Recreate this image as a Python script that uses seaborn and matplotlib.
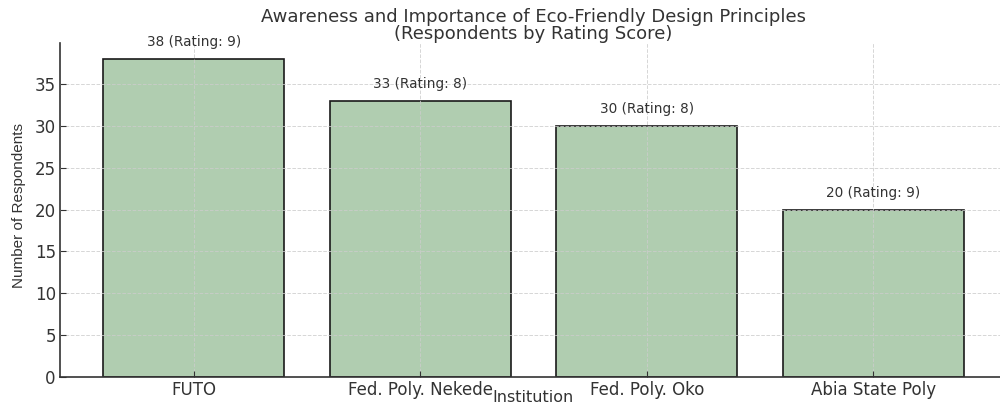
import matplotlib
matplotlib.use("Agg")
import matplotlib.pyplot as plt
from matplotlib import font_manager
import seaborn as sns
import pandas as pd

institutions = ["FUTO", "Fed. Poly. Nekede", "Fed. Poly. Oko", "Abia State Poly"]
respondents = [38, 33, 30, 20]
ratings = [9, 8, 8, 9]

sns.set_style("white")
plt.rcParams['font.family'] = ['DejaVu Sans']

installed = {f.name for f in font_manager.fontManager.ttflist}
if "Liberation Sans Narrow" in installed:
    ylab_font, ylab_size = "Liberation Sans Narrow", 13
else:
    ylab_font, ylab_size = "Liberation Sans", 11

df = pd.DataFrame({"Institution": institutions, "Respondents": respondents})

fig = plt.figure(figsize=(10, 4.09), dpi=100)
ax = fig.add_axes([0.06, 0.078, 0.947, 0.817])

sns.barplot(data=df, x="Institution", y="Respondents", ax=ax,
            color="#b0cdb0", saturation=1, edgecolor="#1a1a1a", linewidth=1.2, width=0.8)

ax.set_xlim(-0.59, 3.59)
ax.set_ylim(0, 39.9)
ax.grid(True, linestyle="--", color="#cccccc", linewidth=0.7, alpha=0.8)
ax.set_axisbelow(False)
for s in ["top", "right"]:
    ax.spines[s].set_visible(False)
for s in ["left", "bottom"]:
    ax.spines[s].set_color("#333333")
    ax.spines[s].set_linewidth(1.2)

ax.tick_params(axis="both", labelsize=12, colors="#333333", length=4, direction="in",
               left=True, bottom=True, pad=3)
for i, (v, r) in enumerate(zip(respondents, ratings)):
    ax.text(i, v + 1.2, f"{v} (Rating: {r})", ha="center", va="bottom", fontsize=9.8, color="#333333")

ax.set_xlabel("Institution", fontsize=11.5, color="#333333")
ax.xaxis.set_label_coords(0.5, -0.04)
ax.set_ylabel("Number of Respondents", fontsize=ylab_size, color="#333333",
              family=[ylab_font, "DejaVu Sans"])
ax.yaxis.set_label_coords(-0.036, 0.515)
ax.set_title("Awareness and Importance of Eco-Friendly Design Principles\n(Respondents by Rating Score)",
             fontsize=13, color="#333333", pad=3, linespacing=0.9)

fig.savefig("out.png", dpi=100)
